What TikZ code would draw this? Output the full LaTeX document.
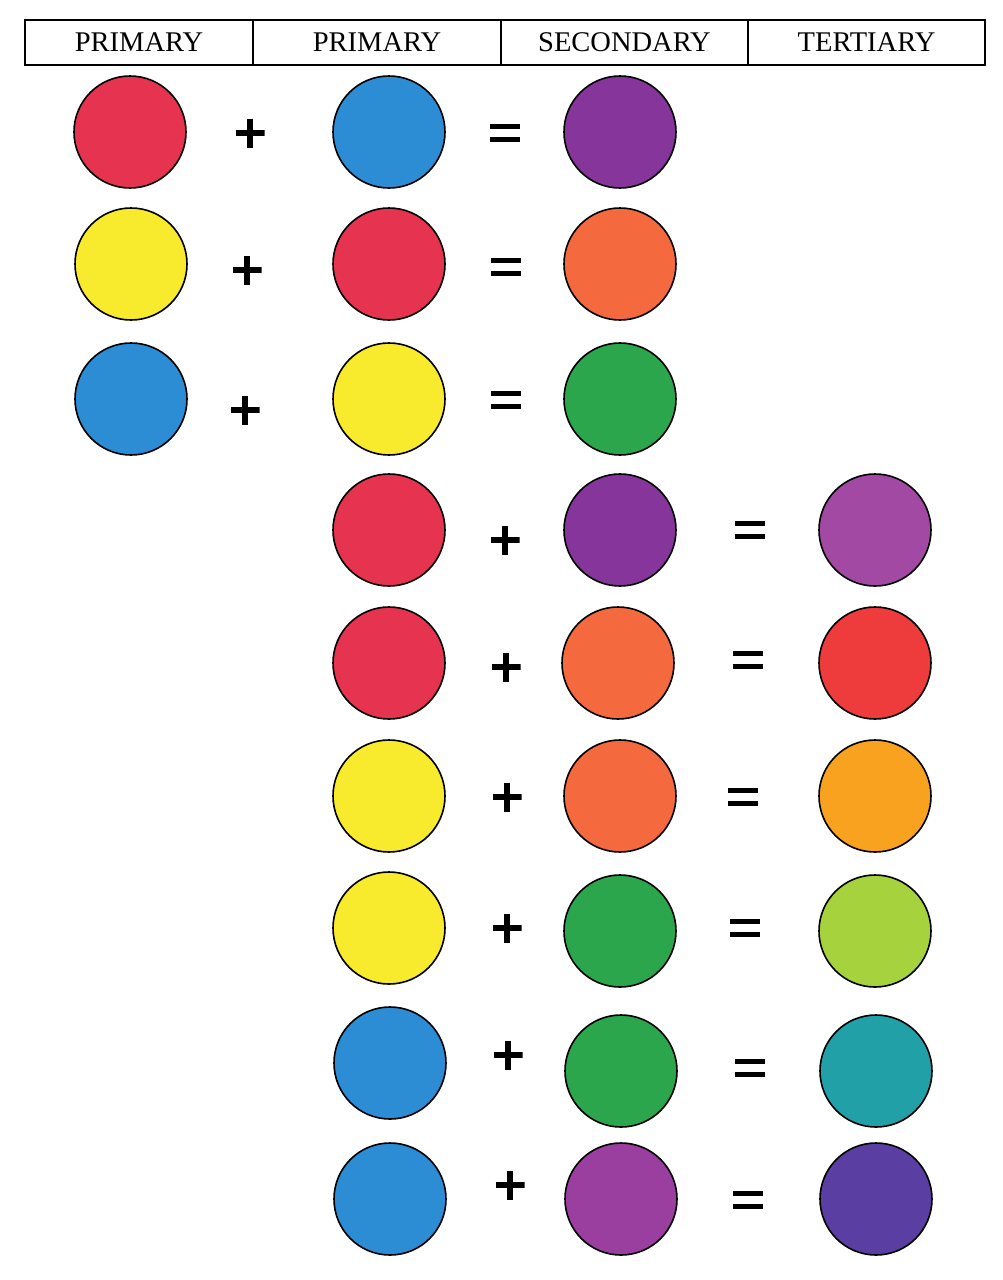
\documentclass[tikz,border=0pt]{standalone}
\usepackage{fontspec}
\setmainfont{Liberation Serif}
\definecolor{cRed}{HTML}{E63350}
\definecolor{cBlue}{HTML}{2C8CD4}
\definecolor{cYellow}{HTML}{F8EA2C}
\definecolor{cPurple}{HTML}{86369A}
\definecolor{cPurpleB}{HTML}{9A3F9F}
\definecolor{cOrange}{HTML}{F5693E}
\definecolor{cGreen}{HTML}{2BA64C}
\definecolor{tRedPurple}{HTML}{A24AA3}
\definecolor{tRedOrange}{HTML}{EE3B3C}
\definecolor{tYelOrange}{HTML}{F8A21F}
\definecolor{tYelGreen}{HTML}{A5D23D}
\definecolor{tBlueGreen}{HTML}{22A0A8}
\definecolor{tBluePurple}{HTML}{5A3EA2}
\tikzset{
  dot/.style={circle, draw=black, line width=1.6pt, minimum size=112pt, inner sep=0pt, fill=#1},
  hcell/.style={draw=black, line width=1.2pt, minimum height=45pt, inner sep=0pt, font=\fontsize{28.5}{30}\selectfont},
  plus/.style={minimum size=29pt, inner sep=0pt,
    path picture={\draw[line width=5.2pt] (path picture bounding box.north) -- (path picture bounding box.south)
      (path picture bounding box.west) -- (path picture bounding box.east);}},
  equals/.style={minimum width=30pt, minimum height=22pt, inner sep=0pt,
    path picture={\draw[line width=4.6pt]
      ([yshift=6.5pt]path picture bounding box.west) -- ([yshift=6.5pt]path picture bounding box.east)
      ([yshift=-6.5pt]path picture bounding box.west) -- ([yshift=-6.5pt]path picture bounding box.east);}}
}
\begin{document}
\begin{tikzpicture}[x=1pt,y=-1pt]
\useasboundingbox (0,0) rectangle (1002,1280);
\fill[white] (0,0) rectangle (1002,1280);
% header
\node[hcell, minimum width=228pt] (h1) at (139,42.5) {PRIMARY};
\node[hcell, minimum width=248pt] (h2) at (377,42.5) {PRIMARY};
\node[hcell, minimum width=247pt] (h3) at (624.5,42.5) {SECONDARY};
\node[hcell, minimum width=237pt] (h4) at (866.5,42.5) {TERTIARY};
% rows 1-3
\node[dot=cRed] (a1) at (130,132) {};
\node[plus] (p1) at (250,133) {};
\node[dot=cBlue] (b1) at (389,132) {};
\node[equals] (e1) at (505,133) {};
\node[dot=cPurple] (c1) at (620,132) {};

\node[dot=cYellow] (a2) at (131,264) {};
\node[plus] (p2) at (247,270) {};
\node[dot=cRed] (b2) at (389,264) {};
\node[equals] (e2) at (506,267) {};
\node[dot=cOrange] (c2) at (620,264) {};

\node[dot=cBlue] (a3) at (131,399) {};
\node[plus] (p3) at (245,410) {};
\node[dot=cYellow] (b3) at (389,399) {};
\node[equals] (e3) at (506,400) {};
\node[dot=cGreen] (c3) at (620,399) {};
% rows 4-9
\node[dot=cRed] (b4) at (389,530) {};
\node[plus] (p4) at (505,540) {};
\node[dot=cPurple] (c4) at (620,530) {};
\node[equals] (e4) at (750,530) {};
\node[dot=tRedPurple] (d4) at (875,530) {};

\node[dot=cRed] (b5) at (389,663) {};
\node[plus] (p5) at (506,667) {};
\node[dot=cOrange] (c5) at (618,663) {};
\node[equals] (e5) at (748,660) {};
\node[dot=tRedOrange] (d5) at (875,663) {};

\node[dot=cYellow] (b6) at (389,796) {};
\node[plus] (p6) at (507,797) {};
\node[dot=cOrange] (c6) at (620,796) {};
\node[equals] (e6) at (743,797) {};
\node[dot=tYelOrange] (d6) at (875,796) {};

\node[dot=cYellow] (b7) at (389,928) {};
\node[plus] (p7) at (507,928) {};
\node[dot=cGreen] (c7) at (620,931) {};
\node[equals] (e7) at (745,928) {};
\node[dot=tYelGreen] (d7) at (875,931) {};

\node[dot=cBlue] (b8) at (390,1063) {};
\node[plus] (p8) at (508,1055) {};
\node[dot=cGreen] (c8) at (621,1071) {};
\node[equals] (e8) at (750,1068) {};
\node[dot=tBlueGreen] (d8) at (876,1071) {};

\node[dot=cBlue] (b9) at (390,1199) {};
\node[plus] (p9) at (510,1185) {};
\node[dot=cPurpleB] (c9) at (621,1199) {};
\node[equals] (e9) at (748,1200) {};
\node[dot=tBluePurple] (d9) at (876,1199) {};
\end{tikzpicture}
\end{document}
